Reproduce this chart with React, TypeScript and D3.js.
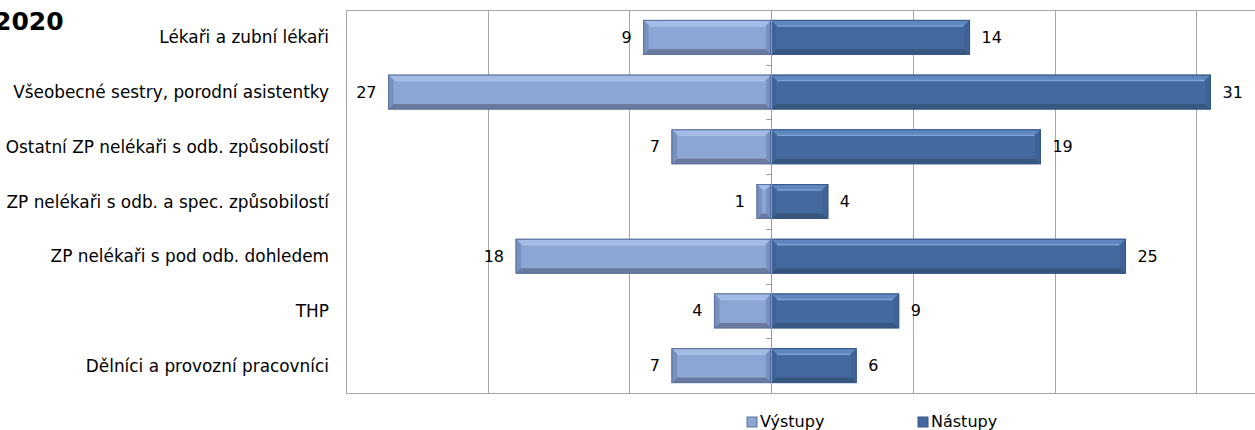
import React from "react";
import * as d3 from "d3";

const categories = [
  "Lékaři a zubní lékaři",
  "Všeobecné sestry, porodní asistentky",
  "Ostatní ZP nelékaři s odb. způsobilostí",
  "ZP nelékaři s odb. a spec. způsobilostí",
  "ZP nelékaři s pod odb. dohledem",
  "THP",
  "Dělníci a provozní pracovníci",
];
const vystupy = [9, 27, 7, 1, 18, 4, 7];
const nastupy = [14, 31, 19, 4, 25, 9, 6];
const gridTicks = [-30, -20, -10, 0, 10, 20, 30, 40];
const seriesNames = ["Výstupy", "Nástupy"];
const title = "2020";

const W = 1255;
const H = 430;
const FONT = "'DejaVu Sans', Verdana, sans-serif";

const x = d3.scaleLinear().domain([-30, 40]).range([346, 1338]);
const y = d3
  .scaleBand<string>()
  .domain(categories)
  .range([10, 393])
  .paddingInner(0.38)
  .paddingOuter(0.19);

type Pal = { edge: string; top: string; face: string; bottom: string; side: string; hi: string };
const palV: Pal = { edge: "#5c72a0", top: "#a3bbe6", face: "#8da5d2", bottom: "#6a7a9e", side: "#7890c0", hi: "#a9c0ea" };
const palN: Pal = { edge: "#35588a", top: "#5f86bd", face: "#44699f", bottom: "#37577f", side: "#3f6397", hi: "#7ea3d6" };

function BevelBar({ x0, x1, y0, h, pal }: { x0: number; x1: number; y0: number; h: number; pal: Pal }) {
  const w = x1 - x0;
  const b = Math.min(5, w / 2.5, h / 4);
  const X0 = x0, X1 = x1, Y0 = y0, Y1 = y0 + h;
  const pts = (a: number[][]) => a.map((p) => p.join(",")).join(" ");
  return (
    <g>
      <rect x={X0} y={Y0} width={w} height={h} fill={pal.face} stroke={pal.edge} strokeWidth={1} />
      <polygon points={pts([[X0, Y0], [X1, Y0], [X1 - b, Y0 + b], [X0 + b, Y0 + b]])} fill={pal.top} />
      <polygon points={pts([[X0, Y1], [X1, Y1], [X1 - b, Y1 - b], [X0 + b, Y1 - b]])} fill={pal.bottom} />
      <polygon points={pts([[X0, Y0], [X0 + b, Y0 + b], [X0 + b, Y1 - b], [X0, Y1]])} fill={pal.side} />
      <polygon points={pts([[X1, Y0], [X1 - b, Y0 + b], [X1 - b, Y1 - b], [X1, Y1]])} fill={pal.side} />
      {w > 3 * b && (
        <line x1={X0 + b + 1} x2={X1 - b - 1} y1={Y0 + b + 0.5} y2={Y0 + b + 0.5} stroke={pal.hi} strokeWidth={1.5} />
      )}
      <rect x={X0} y={Y0} width={w} height={h} fill="none" stroke={pal.edge} strokeWidth={1} />
    </g>
  );
}

export default function App() {
  const bw = y.bandwidth();
  const zero = x(0);
  const step = y.step();
  const top = 10;
  const bottom = 393;
  return (
    <svg
      width={W}
      height={H}
      style={{ position: "absolute", left: 0, top: 0, background: "#fff" }}
      fontFamily={FONT}
    >
      <text x={-6} y={30} fontSize={25} fontWeight="bold" fill="#000">
        {title}
      </text>
      {/* plot border */}
      <line x1={346} x2={W} y1={top + 0.5} y2={top + 0.5} stroke="#a6a6a6" />
      <line x1={346} x2={W} y1={bottom + 0.5} y2={bottom + 0.5} stroke="#a6a6a6" />
      {gridTicks
        .filter((t) => t !== 0 && x(t) <= W)
        .map((t) => (
          <line key={t} x1={Math.round(x(t)) + 0.5} x2={Math.round(x(t)) + 0.5} y1={top} y2={bottom} stroke="#a6a6a6" />
        ))}
      {categories.map((c, i) => {
        const y0 = y(c)!;
        const cy = y0 + bw / 2;
        const xl = x(-vystupy[i]);
        const xr = x(nastupy[i]);
        return (
          <g key={c}>
            <text x={329} y={cy} textAnchor="end" dominantBaseline="central" fontSize={16.9} fill="#000">
              {c}
            </text>
            <BevelBar x0={xl} x1={zero} y0={y0} h={bw} pal={palV} />
            <BevelBar x0={zero} x1={xr} y0={y0} h={bw} pal={palN} />
            <text x={xl - 12} y={cy} textAnchor="end" dominantBaseline="central" fontSize={16} fill="#000">
              {vystupy[i]}
            </text>
            <text x={xr + 12} y={cy} textAnchor="start" dominantBaseline="central" fontSize={16} fill="#000">
              {nastupy[i]}
            </text>
          </g>
        );
      })}
      {/* zero axis */}
      <line x1={Math.round(zero) + 0.5} x2={Math.round(zero) + 0.5} y1={top} y2={bottom} stroke="#9a9a9a" />
      {d3.range(1, categories.length).map((k) => (
        <line
          key={k}
          x1={zero - 5}
          x2={zero}
          y1={Math.round(top + k * step) + 0.5}
          y2={Math.round(top + k * step) + 0.5}
          stroke="#9a9a9a"
        />
      ))}
      {/* legend */}
      {seriesNames.map((s, i) => {
        const lx = i === 0 ? 747 : 918;
        const pal = i === 0 ? palV : palN;
        return (
          <g key={s}>
            <rect x={lx} y={417} width={10} height={10} fill={pal.face} stroke={pal.edge} />
            <text x={lx + 13} y={421} dominantBaseline="central" fontSize={16} fill="#000">
              {s}
            </text>
          </g>
        );
      })}
    </svg>
  );
}
